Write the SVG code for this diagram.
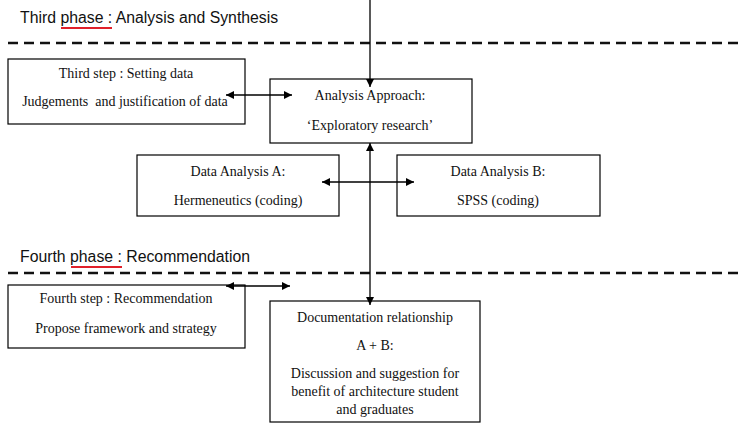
<svg xmlns="http://www.w3.org/2000/svg" width="743" height="426" viewBox="0 0 743 426">
<defs>
<marker id="ah" viewBox="0 0 10 10" refX="10" refY="5" markerWidth="9" markerHeight="8" markerUnits="userSpaceOnUse" orient="auto-start-reverse">
<path d="M0,0 L10,5 L0,10 z" fill="#000"/>
</marker>
<style>
.box{fill:#fff;stroke:#000;stroke-width:1.2}
.t{font-family:"Liberation Serif","Times New Roman",serif;font-size:14px;fill:#111;text-anchor:middle}
.ph{font-family:"Liberation Sans",Arial,sans-serif;font-size:15.8px;fill:#111}
.dash{stroke:#111;stroke-width:2.5;stroke-dasharray:10 6;fill:none}
.ul{stroke:#e0202a;stroke-width:2;fill:none}
.c{stroke:#000;stroke-width:1.3;fill:none}
</style>
</defs>
<rect width="743" height="426" fill="#fff"/>
<g id="phase3">
<text class="ph" x="20" y="23">Third phase : Analysis and Synthesis</text>
<line class="ul" x1="61" y1="28" x2="112" y2="28"/>
<line class="dash" x1="8" y1="43" x2="743" y2="43"/>
</g>
<g id="phase4">
<text class="ph" x="20" y="262">Fourth phase : Recommendation</text>
<line class="ul" x1="71" y1="267" x2="122" y2="267"/>
<line class="dash" x1="8" y1="273" x2="743" y2="273"/>
</g>
<g id="third-step">
<rect class="box" x="8" y="59" width="237" height="65"/>
<text class="t" x="126" y="78">Third step : Setting data</text>
<text class="t" x="125" y="106">Judgements&#160; and justification of data</text>
</g>
<g id="analysis-approach">
<rect class="box" x="270" y="79" width="202" height="64"/>
<text class="t" x="370" y="100">Analysis Approach:</text>
<text class="t" x="370" y="130">‘Exploratory research’</text>
</g>
<g id="data-a">
<rect class="box" x="137" y="155" width="202" height="61"/>
<text class="t" x="238" y="176">Data Analysis A:</text>
<text class="t" x="238" y="205">Hermeneutics (coding)</text>
</g>
<g id="data-b">
<rect class="box" x="397" y="155" width="203" height="61"/>
<text class="t" x="498" y="176">Data Analysis B:</text>
<text class="t" x="498" y="205">SPSS (coding)</text>
</g>
<g id="fourth-step">
<rect class="box" x="8" y="285" width="237" height="63"/>
<text class="t" x="126" y="303">Fourth step : Recommendation</text>
<text class="t" x="126" y="333">Propose framework and strategy</text>
</g>
<g id="documentation">
<rect class="box" x="270" y="301" width="210" height="121"/>
<text class="t" x="375" y="322">Documentation relationship</text>
<text class="t" x="375" y="350">A + B:</text>
<text class="t" x="375" y="378">Discussion and suggestion for</text>
<text class="t" x="375" y="396">benefit of architecture student</text>
<text class="t" x="375" y="414">and graduates</text>
</g>
<g id="connectors">
<line class="c" x1="370" y1="0" x2="370" y2="87" marker-end="url(#ah)"/>
<line class="c" x1="226" y1="95" x2="292" y2="95" marker-start="url(#ah)" marker-end="url(#ah)"/>
<line class="c" x1="322" y1="182" x2="414" y2="182" marker-start="url(#ah)" marker-end="url(#ah)"/>
<line class="c" x1="370" y1="143" x2="370" y2="305" marker-start="url(#ah)" marker-end="url(#ah)"/>
<line class="c" x1="226" y1="286" x2="290" y2="286" marker-start="url(#ah)" marker-end="url(#ah)"/>
</g>
</svg>
